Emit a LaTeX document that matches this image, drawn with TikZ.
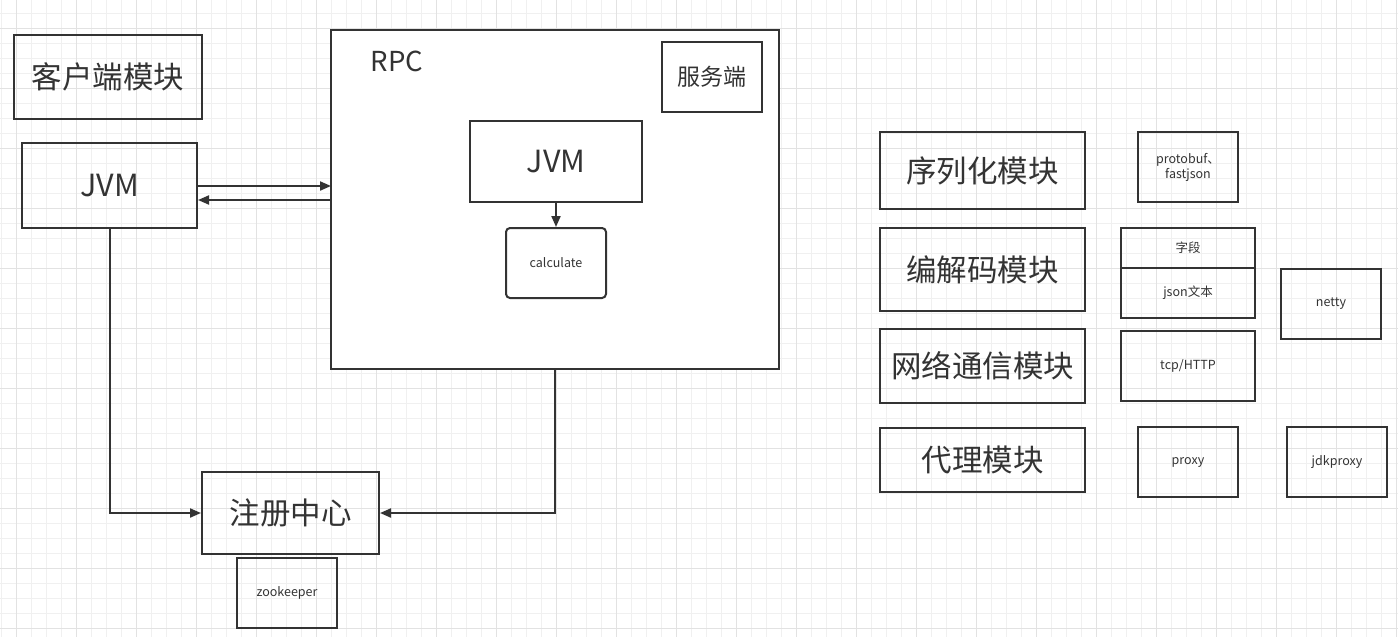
\documentclass[tikz,border=0pt]{standalone}
\usepackage{fontspec}
\setmainfont{Noto Sans CJK SC}
\usetikzlibrary{arrows.meta}
\definecolor{ink}{HTML}{333333}
\definecolor{gridminor}{HTML}{F0F0F0}
\definecolor{gridmajor}{HTML}{E2E2E2}
\tikzset{
  box/.style={draw=ink, line width=2pt, text=ink, inner sep=0pt},
  big/.style={font=\fontsize{30.5}{34}\selectfont},
  mid/.style={font=\fontsize{23}{27}\selectfont},
  small/.style={font=\fontsize{12.5}{15}\selectfont},
  conn/.style={draw=ink, line width=2pt, -{Triangle[length=11pt,width=9pt]}},
}
\newcommand{\dn}[1]{\raisebox{-1.5pt}{#1}}
\begin{document}
\begin{tikzpicture}[x=1pt,y=-1pt]
\useasboundingbox (0,0) rectangle (1398,637);
\fill[white] (0,0) rectangle (1398,637);
% grid
\foreach \i in {0,...,93} {
  \draw[gridminor, line width=1pt] ({1.5+15*\i},0) -- ({1.5+15*\i},637);
}
\foreach \j in {0,...,42} {
  \draw[gridminor, line width=1pt] (0,{628.3-15*\j}) -- (1398,{628.3-15*\j});
}
\foreach \i in {0,...,23} {
  \draw[gridmajor, line width=1pt] ({16.5+60*\i},0) -- ({16.5+60*\i},637);
}
\foreach \j in {0,...,10} {
  \draw[gridmajor, line width=1pt] (0,{628.3-60*\j}) -- (1398,{628.3-60*\j});
}

% left side
\node[box, big, minimum width=188pt, minimum height=84pt] (client) at (108,77) {\dn{客户端模块}};
\node[box, big, minimum width=175pt, minimum height=85pt] (cjvm) at (109.5,185.5) {\dn{JVM}};

% RPC
\node[box, fill=white, minimum width=448pt, minimum height=339pt] (rpc) at (555,199.5) {};
\node[text=ink, font=\fontsize{27.5}{31}\selectfont, anchor=center] (rpclabel) at (397,61) {RPC};
\node[box, mid, minimum width=100pt, minimum height=70pt] (server) at (712,77) {\dn{服务端}};
\node[box, big, minimum width=172pt, minimum height=81pt] (sjvm) at (556,161.5) {\dn{JVM}};
\node[box, small, rounded corners=4pt, minimum width=100pt, minimum height=70pt] (calc) at (556,263) {\dn{calculate}};

% registry
\node[box, big, minimum width=177pt, minimum height=82pt] (reg) at (290.5,513) {\dn{注册中心}};
\node[box, small, minimum width=100pt, minimum height=70pt] (zk) at (287,593) {\dn{zookeeper}};

% connectors
\coordinate (rpcin) at (331,186);
\coordinate (rpcout) at (331,200);
\draw[conn] (cjvm.east |- rpcin) -- (rpcin);
\draw[conn] (rpcout) -- (cjvm.east |- rpcout);
\draw[conn] (sjvm.south) -- (calc.north);
\draw[conn] (cjvm.south) |- (reg.west);
\draw[conn] (rpc.south) |- (reg.east);

% right side modules
\node[box, big, minimum width=205pt, minimum height=77pt] (ser) at (982.5,170.5) {\dn{序列化模块}};
\node[box, big, minimum width=205pt, minimum height=83pt] (codec) at (982.5,269.5) {\dn{编解码模块}};
\node[box, big, minimum width=205pt, minimum height=74pt] (net) at (982.5,366) {\dn{网络通信模块}};
\node[box, big, minimum width=205pt, minimum height=64pt] (proxym) at (982.5,460) {\dn{代理模块}};

\node[box, small, minimum width=100pt, minimum height=70pt, align=center] (pb) at (1188,167) {protobuf、\\fastjson};
\node[box, small, minimum width=134pt, minimum height=40pt] (field) at (1188,248) {\dn{字段}};
\node[box, small, minimum width=134pt, minimum height=50pt] (json) at (1188,293) {\dn{json文本}};
\node[box, small, minimum width=100pt, minimum height=70pt] (netty) at (1331,304) {\dn{netty}};
\node[box, small, minimum width=134pt, minimum height=70pt] (tcp) at (1188,366) {\dn{tcp/HTTP}};
\node[box, small, minimum width=100pt, minimum height=70pt] (proxy) at (1188,462) {\dn{proxy}};
\node[box, small, minimum width=100pt, minimum height=70pt] (jdk) at (1337,462) {\dn{jdkproxy}};
\end{tikzpicture}
\end{document}
